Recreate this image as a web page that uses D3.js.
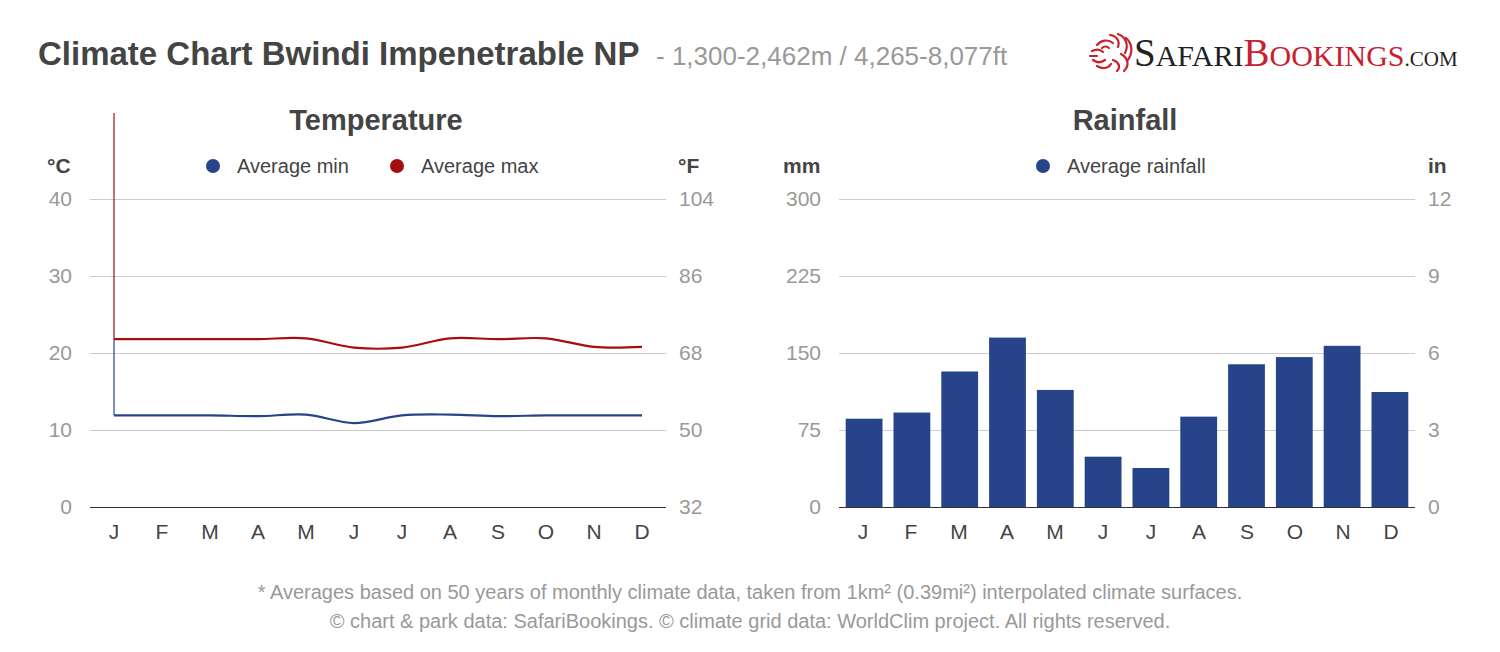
<!DOCTYPE html>
<html>
<head>
<meta charset="utf-8">
<script src="https://cdn.jsdelivr.net/npm/d3@7"></script>
<style>
  body { margin: 0; background: #fff; }
  svg { display: block; font-family: "Liberation Sans", Arial, sans-serif; }
</style>
</head>
<body>
<svg id="chart" width="1500" height="652"></svg>
<script>
// climate data, Bwindi Impenetrable NP
var months = ["J", "F", "M", "A", "M", "J", "J", "A", "S", "O", "N", "D"];
var tempMin = [11.9, 11.9, 11.9, 11.8, 12.0, 10.9, 11.9, 12.0, 11.8, 11.9, 11.9, 11.9];
var tempMax = [21.8, 21.8, 21.8, 21.8, 21.9, 20.7, 20.7, 21.9, 21.8, 21.9, 20.8, 20.8];
var rainfall = [86, 92, 132, 165, 114, 49, 38, 88, 139, 146, 157, 112];
var tempTicksC = [0, 10, 20, 30, 40];
var tempTicksF = [32, 50, 68, 86, 104];
var rainTicksMm = [0, 75, 150, 225, 300];
var rainTicksIn = [0, 3, 6, 9, 12];

var blue = "#27448b";
var red = "#a50e0e";
var grid = "#cccccc";
var dark = "#444444";
var grey = "#999999";

var svg = d3.select("#chart");
var plotTop = 199, plotBottom = 507;

// header
svg.append("text").attr("x", 38).attr("y", 65)
  .attr("font-size", 33).attr("font-weight", "bold").attr("fill", dark)
  .text("Climate Chart Bwindi Impenetrable NP");
svg.append("text").attr("x", 656).attr("y", 65)
  .attr("font-size", 26).attr("fill", grey)
  .text("- 1,300-2,462m / 4,265-8,077ft");

// logo: lion head + wordmark
var logo = svg.append("g").attr("transform", "translate(1088,32)");
var lion = [
  "M22,3 C29,4 32,9 30,15",
  "M30,2 C38,5 41,13 37,21",
  "M38,6 C45,12 45,22 39,29",
  "M33,22 C40,26 42,33 36,39",
  "M25,28 C31,30 33,35 29,39",
  "M9,13 C13,8 20,7 25,11",
  "M14,16 C16,14 19,14 21,16",
  "M4,19 C8,17 12,17 15,20",
  "M2,24 L9,24",
  "M5,28 C9,31 13,31 17,28",
  "M9,34 C14,37 20,37 23,32"
];
logo.selectAll("path").data(lion).enter().append("path")
  .attr("d", function (d) { return d; })
  .attr("fill", "none").attr("stroke", "#c8202f").attr("stroke-width", 2.2)
  .attr("stroke-linecap", "round");
var logoText = svg.append("text").attr("x", 1134).attr("y", 66)
  .attr("font-family", "'Liberation Serif', 'DejaVu Serif', serif").attr("font-size", 30);
logoText.append("tspan").attr("fill", "#222").attr("font-size", 39).text("S");
logoText.append("tspan").attr("fill", "#222").text("AFARI");
logoText.append("tspan").attr("fill", "#c8202f").attr("font-size", 39).text("B");
logoText.append("tspan").attr("fill", "#c8202f").text("OOKINGS");
logoText.append("tspan").attr("fill", "#222").attr("font-size", 21).text(".COM");

function panel(opts) {
  var g = svg.append("g");
  var x = d3.scaleBand().domain(d3.range(months.length)).range(opts.range);
  var y = d3.scaleLinear().domain(opts.domain).range([plotBottom, plotTop]);
  var y2 = d3.scaleLinear().domain(opts.domain2).range([plotBottom, plotTop]);
  var left = opts.range[0], right = opts.range[1];

  g.append("text").attr("x", (left + right) / 2 - 2).attr("y", 130)
    .attr("text-anchor", "middle").attr("font-size", 29).attr("font-weight", "bold")
    .attr("fill", dark).text(opts.title);

  g.append("text").attr("x", opts.unitLeft).attr("y", 173)
    .attr("font-size", 21).attr("font-weight", "bold").attr("fill", dark).text(opts.unit);
  g.append("text").attr("x", opts.unitRight).attr("y", 173)
    .attr("font-size", 21).attr("font-weight", "bold").attr("fill", dark).text(opts.unit2);

  // legend
  var lg = g.selectAll(".legend").data(opts.legend).enter().append("g")
    .attr("transform", function (d) { return "translate(" + d.x + ",166)"; });
  lg.append("circle").attr("r", 7).attr("fill", function (d) { return d.color; });
  lg.append("text").attr("x", 24).attr("y", 7).attr("font-size", 20)
    .attr("fill", dark).text(function (d) { return d.label; });

  // grid + left ticks
  var yAxis = d3.axisLeft(y).tickValues(opts.ticks).tickSize(-(right - left)).tickPadding(18);
  var ga = g.append("g").attr("transform", "translate(" + left + ",0)").call(yAxis);
  ga.select(".domain").remove();
  ga.selectAll(".tick line").attr("stroke", grid);
  ga.selectAll(".tick text").attr("font-size", 21).attr("fill", grey)
    .attr("font-family", "'Liberation Sans', Arial, sans-serif");
  ga.selectAll(".tick").filter(function (d) { return d === 0; }).select("line").attr("stroke", "#333");

  var yAxis2 = d3.axisRight(y2).tickValues(opts.ticks2).tickSize(0).tickPadding(opts.pad2);
  var gb = g.append("g").attr("transform", "translate(" + right + ",0)").call(yAxis2);
  gb.select(".domain").remove();
  gb.selectAll(".tick text").attr("font-size", 21).attr("fill", grey)
    .attr("font-family", "'Liberation Sans', Arial, sans-serif");

  // month axis
  var xAxis = d3.axisBottom(x).tickSize(0).tickPadding(17)
    .tickFormat(function (i) { return months[i]; });
  var gx = g.append("g").attr("transform", "translate(0," + plotBottom + ")").call(xAxis);
  gx.select(".domain").remove();
  gx.selectAll(".tick text").attr("font-size", 21).attr("fill", dark)
    .attr("font-family", "'Liberation Sans', Arial, sans-serif");

  return { g: g, x: x, y: y };
}

// Temperature
var t = panel({
  title: "Temperature", range: [90, 666], domain: [0, 40], domain2: [32, 104],
  ticks: tempTicksC, ticks2: tempTicksF, unit: "°C", unit2: "°F",
  unitLeft: 47, unitRight: 678, pad2: 13,
  legend: [{ x: 213, color: blue, label: "Average min" }, { x: 397, color: red, label: "Average max" }]
});
var cx = function (d, i) { return t.x(i) + t.x.bandwidth() / 2; };
var line = d3.line().x(cx).y(function (d) { return t.y(d); }).curve(d3.curveCatmullRom);

t.g.append("line").attr("x1", cx(0, 0)).attr("x2", cx(0, 0))
  .attr("y1", 113).attr("y2", t.y(tempMax[0])).attr("stroke", red).attr("stroke-width", 1.2);
t.g.append("line").attr("x1", cx(0, 0)).attr("x2", cx(0, 0))
  .attr("y1", t.y(tempMax[0])).attr("y2", t.y(tempMin[0])).attr("stroke", blue).attr("stroke-width", 1.2);
t.g.append("path").datum(tempMax).attr("d", line)
  .attr("fill", "none").attr("stroke", red).attr("stroke-width", 2.2);
t.g.append("path").datum(tempMin).attr("d", line)
  .attr("fill", "none").attr("stroke", blue).attr("stroke-width", 2.2);

// Rainfall
var r = panel({
  title: "Rainfall", range: [839, 1415], domain: [0, 300], domain2: [0, 12],
  ticks: rainTicksMm, ticks2: rainTicksIn, unit: "mm", unit2: "in",
  unitLeft: 783, unitRight: 1428, pad2: 13,
  legend: [{ x: 1043, color: blue, label: "Average rainfall" }]
});
r.x.paddingInner(0.23).paddingOuter(0.14);
r.g.append("g").selectAll("rect").data(rainfall).enter().append("rect")
  .attr("x", function (d, i) { return r.x(i); })
  .attr("width", r.x.bandwidth())
  .attr("y", function (d) { return r.y(d); })
  .attr("height", function (d) { return plotBottom - r.y(d); })
  .attr("fill", blue);

// footer
svg.append("text").attr("x", 750).attr("y", 599).attr("text-anchor", "middle")
  .attr("font-size", 20).attr("fill", grey)
  .text("* Averages based on 50 years of monthly climate data, taken from 1km² (0.39mi²) interpolated climate surfaces.");
svg.append("text").attr("x", 750).attr("y", 628).attr("text-anchor", "middle")
  .attr("font-size", 20).attr("fill", grey)
  .text("© chart & park data: SafariBookings. © climate grid data: WorldClim project. All rights reserved.");
</script>
</body>
</html>
